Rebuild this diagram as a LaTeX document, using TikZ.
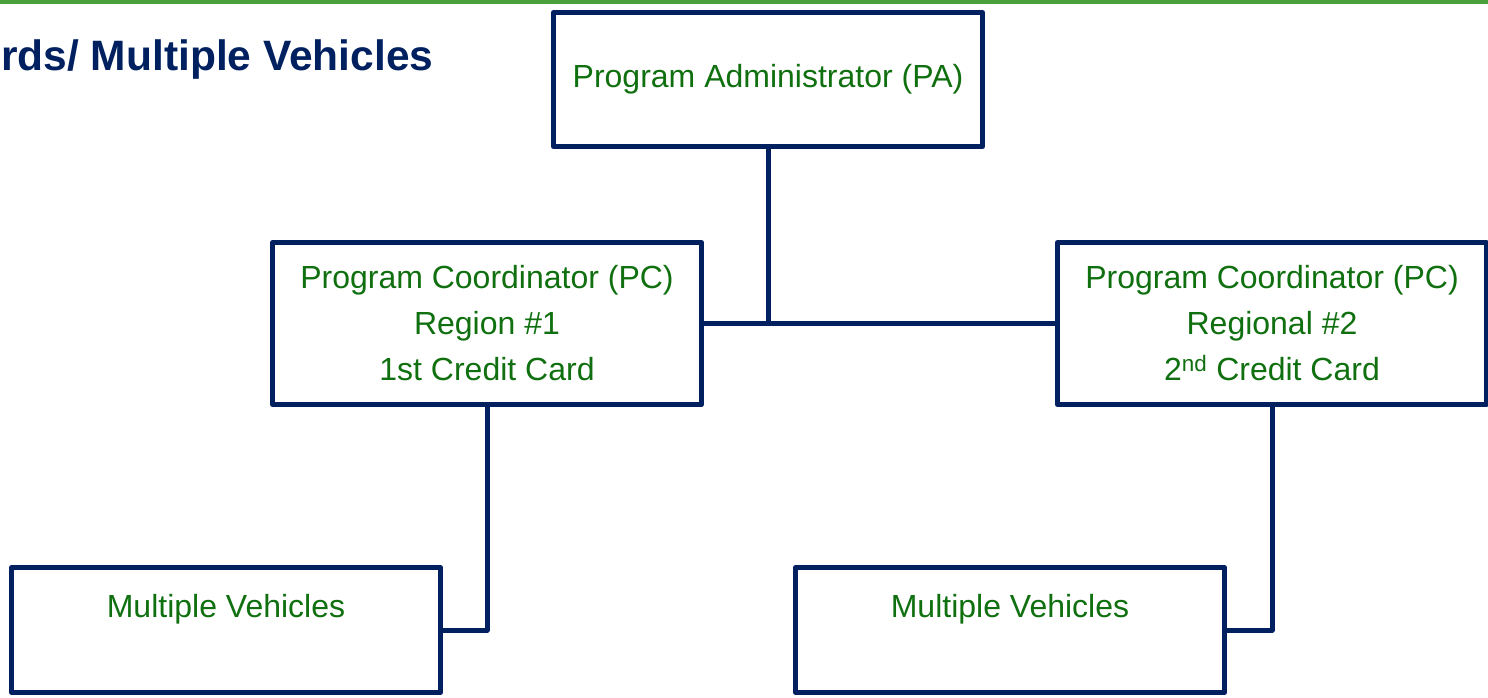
\documentclass[tikz,border=0pt]{standalone}
\usepackage{fontspec}
\setmainfont{Liberation Sans}
\usepackage{tikz}
\definecolor{navy}{RGB}{0,32,96}
\definecolor{textgreen}{RGB}{16,112,16}
\definecolor{topgreen}{RGB}{74,160,58}

\begin{document}
\begin{tikzpicture}[x=1pt, y=-1pt]

   % Set up styles for the chart
  \tikzset{
      box/.style={draw=navy, line width=5pt, line join=round, fill=white,
        minimum width=429pt, inner sep=0pt, align=center, text=textgreen,
        font=\fontsize{32}{46}\selectfont},
      link/.style={draw=navy, line width=5pt, line join=round}
  }

  \useasboundingbox (0,0) rectangle (1488,697);
  \fill[topgreen] (0,0) rectangle (1488,3.5);  % top rule

  % title, cut at the left edge
  \node[anchor=base west, inner sep=0pt, text=navy, font=\fontsize{42.5}{50}\selectfont\bfseries]
    (title) at (1,70) {rds/ Multiple Vehicles};

  % boxes
  \node[box, minimum height=134pt] (pa) at (768,79.5) {Program Administrator (PA)};
  \node[box, minimum height=162pt] (pcone) at (487,323.5)
    {Program Coordinator (PC)\\Region \#1\\1st Credit Card};
  \node[box, minimum height=162pt] (pctwo) at (1272,323.5)
    {Program Coordinator (PC)\\Regional \#2\\2\textsuperscript{nd} Credit Card};
  \node[box, minimum height=125pt] (mvone) at (226,630) {Multiple Vehicles\\[-12pt]\strut};
  \node[box, minimum height=125pt] (mvtwo) at (1010,630) {Multiple Vehicles\\[-12pt]\strut};

  % connectors
  \coordinate (joint) at (pa.south |- pcone.east);
  \draw[link] (pa.south) -- (joint);
  \draw[link] (pcone.east) -- (pctwo.west);
  \draw[link] (pcone.south) |- (mvone.east);
  \draw[link] (pctwo.south) |- (mvtwo.east);

\end{tikzpicture}
\end{document}
